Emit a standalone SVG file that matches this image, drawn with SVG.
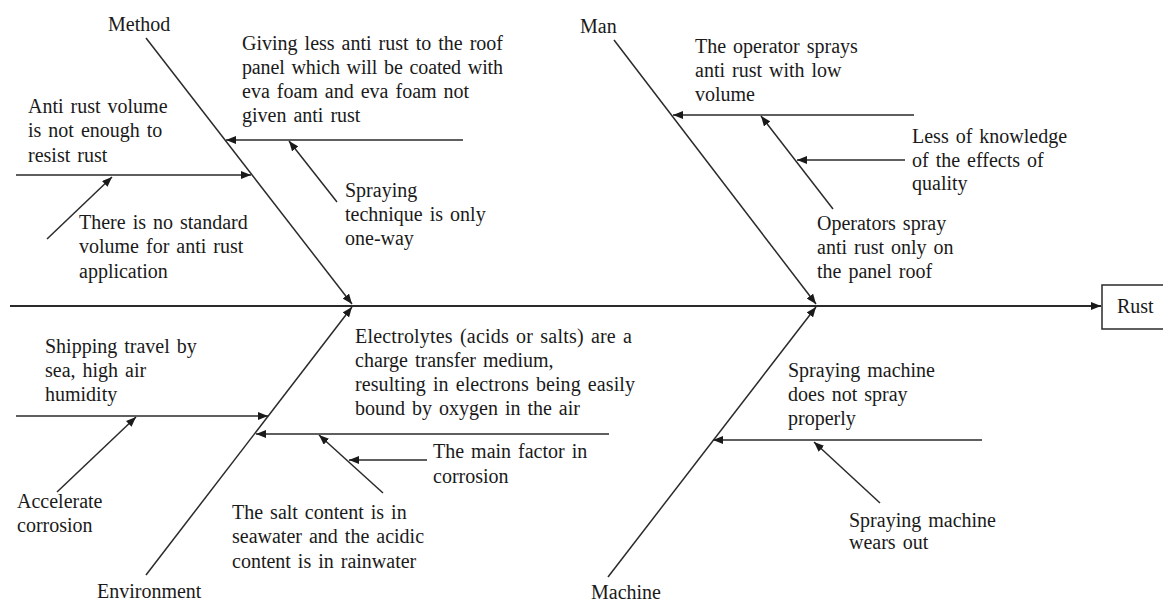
<svg xmlns="http://www.w3.org/2000/svg" width="1163" height="601" viewBox="0 0 1163 601">
<style>
text{font-family:"Liberation Serif","Times New Roman",serif;font-size:20px;fill:#1a1a1a;word-spacing:2px}
.ln{stroke:#2a2a2a;stroke-width:1.5;fill:none}
.sp{stroke:#2a2a2a;stroke-width:2;fill:none}
</style>
<defs>
<marker id="ah" viewBox="0 0 10 8" refX="10" refY="4" markerWidth="10" markerHeight="8" markerUnits="userSpaceOnUse" orient="auto">
<path d="M0,0 L10,4 L0,8 z" fill="#1a1a1a"/>
</marker>
</defs>
<rect width="1163" height="601" fill="#ffffff"/>
<g id="connectors">
<path class="sp" d="M10,306 H1101" marker-end="url(#ah)"/>
<path class="ln" d="M146,38 L352,304" marker-end="url(#ah)"/>
<path class="ln" d="M614,40 L816,304" marker-end="url(#ah)"/>
<path class="ln" d="M146,575 L352,307" marker-end="url(#ah)"/>
<path class="ln" d="M608,577 L816,307" marker-end="url(#ah)"/>
<path class="ln" d="M463,140 H226" marker-end="url(#ah)"/>
<path class="ln" d="M337,202 L289,141" marker-end="url(#ah)"/>
<path class="ln" d="M16,175 H251" marker-end="url(#ah)"/>
<path class="ln" d="M47,239 L112,177" marker-end="url(#ah)"/>
<path class="ln" d="M914,115 H673" marker-end="url(#ah)"/>
<path class="ln" d="M833,209 L761,116" marker-end="url(#ah)"/>
<path class="ln" d="M905,160 H797" marker-end="url(#ah)"/>
<path class="ln" d="M16,416 H268" marker-end="url(#ah)"/>
<path class="ln" d="M57,492 L136,417" marker-end="url(#ah)"/>
<path class="ln" d="M609,434 H256" marker-end="url(#ah)"/>
<path class="ln" d="M383,493 L319,435" marker-end="url(#ah)"/>
<path class="ln" d="M427,460 H349" marker-end="url(#ah)"/>
<path class="ln" d="M982,440 H713" marker-end="url(#ah)"/>
<path class="ln" d="M880,503 L814,442" marker-end="url(#ah)"/>
</g>
<g id="rust">
<rect x="1102" y="285" width="80" height="44" fill="#fff" stroke="#2a2a2a" stroke-width="1.5"/>
<text x="1117" y="313">Rust</text>
</g>
<g id="method"><text x="108" y="31">Method</text></g>
<g id="man"><text x="580" y="33">Man</text></g>
<g id="environment"><text x="97" y="598">Environment</text></g>
<g id="machine"><text x="591" y="599">Machine</text></g>
<g id="method-cause1">
<text x="242" y="50" textLength="261" lengthAdjust="spacing">Giving less anti rust to the roof</text>
<text x="242" y="74" textLength="261" lengthAdjust="spacing">panel which will be coated with</text>
<text x="242" y="98">eva foam and eva foam not</text>
<text x="242" y="122">given anti rust</text>
</g>
<g id="method-cause1a">
<text x="345" y="197">Spraying</text>
<text x="345" y="221">technique is only</text>
<text x="345" y="245">one-way</text>
</g>
<g id="method-cause2">
<text x="28" y="113">Anti rust volume</text>
<text x="28" y="137">is not enough to</text>
<text x="28" y="162">resist rust</text>
</g>
<g id="method-cause2a">
<text x="79" y="229">There is no standard</text>
<text x="79" y="253">volume for anti rust</text>
<text x="79" y="278">application</text>
</g>
<g id="man-cause1">
<text x="695" y="53">The operator sprays</text>
<text x="695" y="77">anti rust with low</text>
<text x="695" y="101">volume</text>
</g>
<g id="man-cause1a">
<text x="817" y="230">Operators spray</text>
<text x="817" y="254">anti rust only on</text>
<text x="817" y="278">the panel roof</text>
</g>
<g id="man-cause1b">
<text x="912" y="143">Less of knowledge</text>
<text x="912" y="167">of the effects of</text>
<text x="912" y="190">quality</text>
</g>
<g id="env-cause1">
<text x="45" y="353">Shipping travel by</text>
<text x="45" y="377">sea, high air</text>
<text x="45" y="401">humidity</text>
</g>
<g id="env-cause1a">
<text x="17" y="508">Accelerate</text>
<text x="17" y="532">corrosion</text>
</g>
<g id="env-cause2">
<text x="355" y="343" textLength="277" lengthAdjust="spacing">Electrolytes (acids or salts) are a</text>
<text x="355" y="367">charge transfer medium,</text>
<text x="355" y="391" textLength="280" lengthAdjust="spacing">resulting in electrons being easily</text>
<text x="355" y="415">bound by oxygen in the air</text>
</g>
<g id="env-cause2a">
<text x="232" y="519">The salt content is in</text>
<text x="232" y="543">seawater and the acidic</text>
<text x="232" y="568">content is in rainwater</text>
</g>
<g id="env-cause2b">
<text x="433" y="458">The main factor in</text>
<text x="433" y="483">corrosion</text>
</g>
<g id="machine-cause1">
<text x="788" y="377">Spraying machine</text>
<text x="788" y="401">does not spray</text>
<text x="788" y="425">properly</text>
</g>
<g id="machine-cause1a">
<text x="849" y="527">Spraying machine</text>
<text x="849" y="549">wears out</text>
</g>
</svg>
